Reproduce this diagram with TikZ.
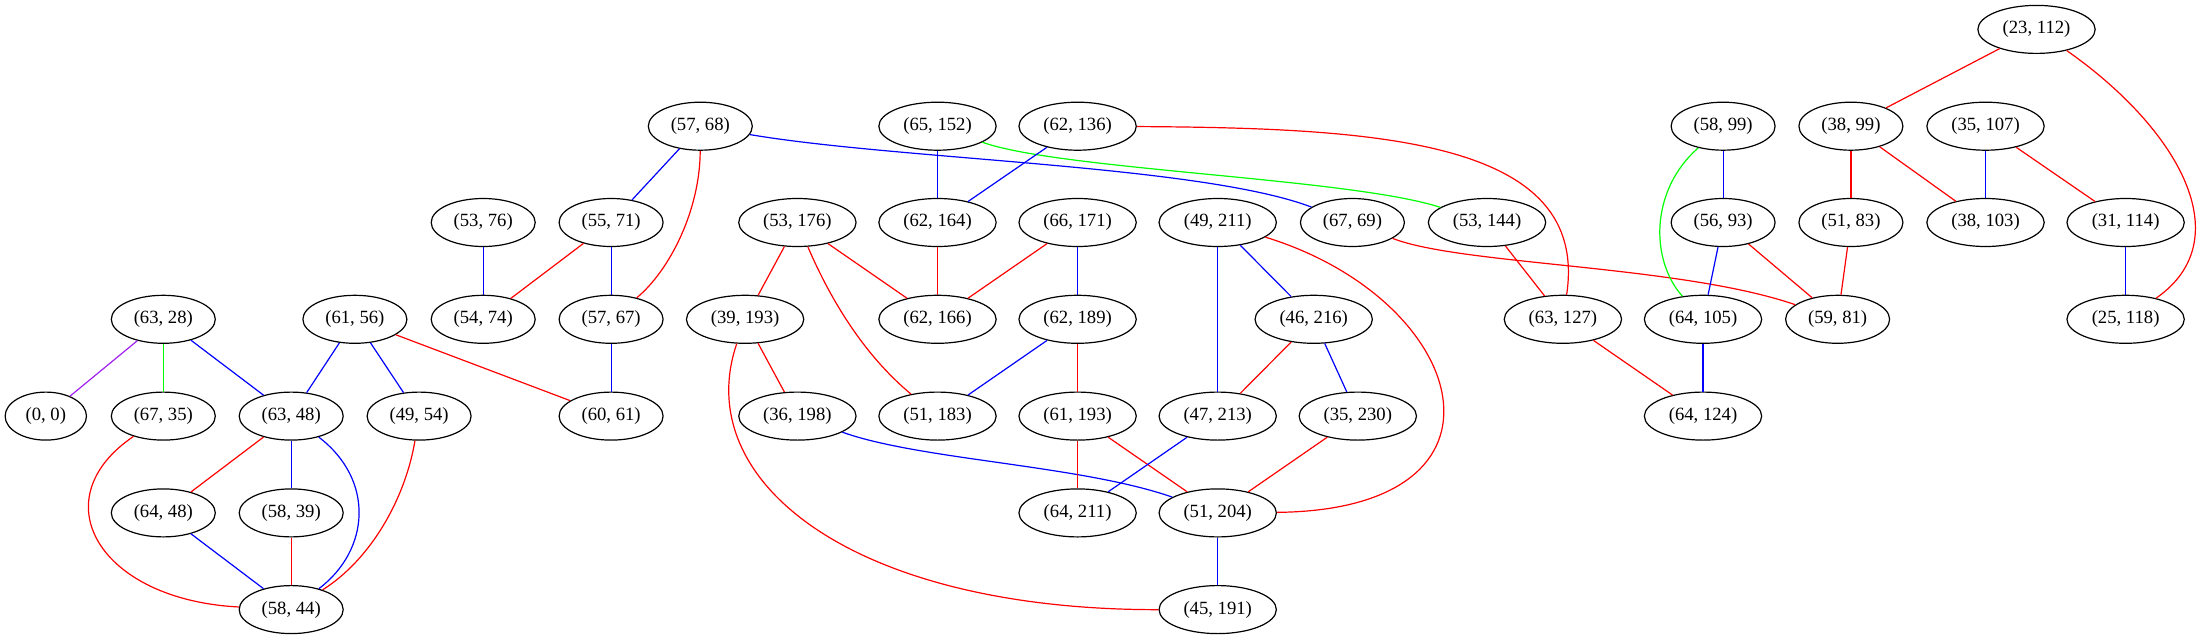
\documentclass[tikz,border=0pt]{standalone}
\usepackage{fontspec}
\setmainfont{Liberation Serif}
\usepackage{tikz}
\usetikzlibrary{shapes.geometric}

\definecolor{gvred}{RGB}{255,0,0}
\definecolor{gvblue}{RGB}{0,0,255}
\definecolor{gvgreen}{RGB}{0,255,0}
\definecolor{gvpurple}{RGB}{160,32,240}

\begin{document}
\begin{tikzpicture}[x=0.75pt,y=-0.75pt,
    pair/.style={ellipse, draw, line width=0.9pt, minimum width=78pt, minimum height=36pt, inner sep=0pt, font=\fontsize{14}{16}\selectfont},
    wide/.style={pair, minimum width=88pt},
    tiny/.style={pair, minimum width=61pt},
    every path/.style={line width=0.9pt}]
    \useasboundingbox (0,0) rectangle (2208,635);

    % top rows
    \node[wide] (p23-112) at (2036.5,29.4) {(23, 112)};
    \node[pair] (p57-68) at (700.3,126.2) {(57, 68)};
    \node[wide] (p65-152) at (937.5,126.2) {(65, 152)};
    \node[wide] (p62-136) at (1077.6,126.2) {(62, 136)};
    \node[pair] (p58-99) at (1723.1,126.2) {(58, 99)};
    \node[pair] (p38-99) at (1850.9,126.2) {(38, 99)};
    \node[wide] (p35-107) at (1985.5,126.2) {(35, 107)};

    \node[pair] (p53-76) at (483.2,222.5) {(53, 76)};
    \node[pair] (p55-71) at (611.1,222.5) {(55, 71)};
    \node[wide] (p53-176) at (797.4,222.5) {(53, 176)};
    \node[wide] (p62-164) at (937.5,222.5) {(62, 164)};
    \node[wide] (p66-171) at (1077.6,222.5) {(66, 171)};
    \node[wide] (p49-211) at (1217.7,222.5) {(49, 211)};
    \node[pair] (p67-69) at (1352.4,222.5) {(67, 69)};
    \node[wide] (p53-144) at (1487,222.5) {(53, 144)};
    \node[pair] (p56-93) at (1723.1,222.5) {(56, 93)};
    \node[pair] (p51-83) at (1850.9,222.5) {(51, 83)};
    \node[wide] (p38-103) at (1985.5,222.5) {(38, 103)};
    \node[wide] (p31-114) at (2125.6,222.5) {(31, 114)};

    \node[pair] (p63-28) at (163.3,319.3) {(63, 28)};
    \node[pair] (p61-56) at (354.9,319.3) {(61, 56)};
    \node[pair] (p54-74) at (483.2,319.3) {(54, 74)};
    \node[pair] (p57-67) at (611.1,319.3) {(57, 67)};
    \node[wide] (p39-193) at (745.1,319.3) {(39, 193)};
    \node[wide] (p62-166) at (937.5,319.3) {(62, 166)};
    \node[wide] (p62-189) at (1077.6,319.3) {(62, 189)};
    \node[wide] (p46-216) at (1313.7,319.3) {(46, 216)};
    \node[wide] (p63-127) at (1562.9,319.3) {(63, 127)};
    \node[wide] (p64-105) at (1703,319.3) {(64, 105)};
    \node[pair] (p59-81) at (1837.6,319.3) {(59, 81)};
    \node[wide] (p25-118) at (2125.6,319.3) {(25, 118)};

    % lower rows
    \node[tiny] (p0-0) at (45.8,416.1) {(0, 0)};
    \node[pair] (p67-35) at (163.3,416.1) {(67, 35)};
    \node[pair] (p63-48) at (291.2,416.1) {(63, 48)};
    \node[pair] (p49-54) at (419.1,416.1) {(49, 54)};
    \node[pair] (p60-61) at (611.1,416.1) {(60, 61)};
    \node[wide] (p36-198) at (797.4,416.1) {(36, 198)};
    \node[wide] (p51-183) at (937.5,416.1) {(51, 183)};
    \node[wide] (p61-193) at (1077.6,416.1) {(61, 193)};
    \node[wide] (p47-213) at (1217.7,416.1) {(47, 213)};
    \node[wide] (p35-230) at (1357.8,416.1) {(35, 230)};
    \node[wide] (p64-124) at (1703,416.1) {(64, 124)};

    \node[pair] (p64-48) at (163.3,512.9) {(64, 48)};
    \node[pair] (p58-39) at (291.2,512.9) {(58, 39)};
    \node[wide] (p64-211) at (1077.6,512.9) {(64, 211)};
    \node[wide] (p51-204) at (1217.7,512.9) {(51, 204)};

    \node[pair] (p58-44) at (291.2,609.6) {(58, 44)};
    \node[wide] (p45-191) at (1217.7,609.6) {(45, 191)};

    % draw the edges
    \draw[gvpurple] (p63-28) -- (p0-0);
    \draw[gvgreen] (p63-28) -- (p67-35);
    \draw[gvblue] (p63-28) -- (p63-48);
    \draw[gvblue] (p61-56) -- (p63-48);
    \draw[gvblue] (p61-56) -- (p49-54);
    \draw[gvred] (p61-56) -- (p60-61);
    \draw[gvred] (p67-35) .. controls (40,500) and (100,600) .. (p58-44);
    \draw[gvred] (p63-48) -- (p64-48);
    \draw[gvblue] (p63-48) -- (p58-39);
    \draw[gvblue] (p63-48) .. controls (375,480) and (370,550) .. (p58-44);
    \draw[gvblue] (p64-48) -- (p58-44);
    \draw[gvred] (p58-39) -- (p58-44);
    \draw[gvred] (p49-54) .. controls (405,500) and (370,560) .. (p58-44);
    \draw[gvblue] (p57-68) -- (p55-71);
    \draw[gvred] (p57-68) .. controls (700,210) and (670,270) .. (p57-67);
    \draw[gvblue] (p57-68) .. controls (900,160) and (1200,165) .. (p67-69);
    \draw[gvblue] (p53-76) -- (p54-74);
    \draw[gvred] (p55-71) -- (p54-74);
    \draw[gvblue] (p55-71) -- (p57-67);
    \draw[gvblue] (p57-67) -- (p60-61);

    \draw[gvblue] (p65-152) -- (p62-164);
    \draw[gvgreen] (p65-152) .. controls (1060,170) and (1350,178) .. (p53-144);
    \draw[gvblue] (p62-136) -- (p62-164);
    \draw[gvred] (p62-136) .. controls (1380,128) and (1590,140) .. (p63-127);
    \draw[gvred] (p53-176) -- (p39-193);
    \draw[gvred] (p53-176) -- (p62-166);
    \draw[gvred] (p53-176) .. controls (835,310) and (870,360) .. (p51-183);
    \draw[gvred] (p62-164) -- (p62-166);
    \draw[gvred] (p66-171) -- (p62-166);
    \draw[gvblue] (p66-171) -- (p62-189);
    \draw[gvblue] (p49-211) -- (p46-216);
    \draw[gvblue] (p49-211) -- (p47-213);
    \draw[gvred] (p49-211) .. controls (1470,300) and (1530,510) .. (p51-204);
    \draw[gvred] (p67-69) .. controls (1460,265) and (1680,265) .. (p59-81);
    \draw[gvred] (p39-193) -- (p36-198);
    \draw[gvred] (p39-193) .. controls (690,480) and (850,610) .. (p45-191);
    \draw[gvblue] (p62-189) -- (p51-183);
    \draw[gvred] (p62-189) -- (p61-193);
    \draw[gvred] (p46-216) -- (p47-213);
    \draw[gvblue] (p46-216) -- (p35-230);
    \draw[gvblue] (p36-198) .. controls (920,460) and (1080,465) .. (p51-204);
    \draw[gvred] (p61-193) -- (p64-211);
    \draw[gvred] (p61-193) -- (p51-204);
    \draw[gvblue] (p47-213) -- (p64-211);
    \draw[gvred] (p35-230) -- (p51-204);
    \draw[gvblue] (p51-204) -- (p45-191);

    \draw[gvred] (p53-144) -- (p63-127);
    \draw[gvred] (p63-127) -- (p64-124);
    \draw[gvblue] (p58-99) -- (p56-93);
    \draw[gvgreen] (p58-99) .. controls (1650,190) and (1650,260) .. (p64-105);
    \draw[gvblue] (p56-93) -- (p64-105);
    \draw[gvred] (p56-93) -- (p59-81);
    \draw[gvred] (p51-83) -- (p59-81);
    \draw[gvred] (p38-99) -- (p51-83);
    \draw[gvred] (p38-99) -- (p38-103);
    \draw[gvblue] (p35-107) -- (p38-103);
    \draw[gvred] (p35-107) -- (p31-114);
    \draw[gvblue] (p31-114) -- (p25-118);
    \draw[gvred] (p23-112) -- (p38-99);
    \draw[gvred] (p23-112) .. controls (2180,130) and (2240,240) .. (p25-118);
    \draw[gvblue] (p64-105) -- (p64-124);

\end{tikzpicture}
\end{document}
